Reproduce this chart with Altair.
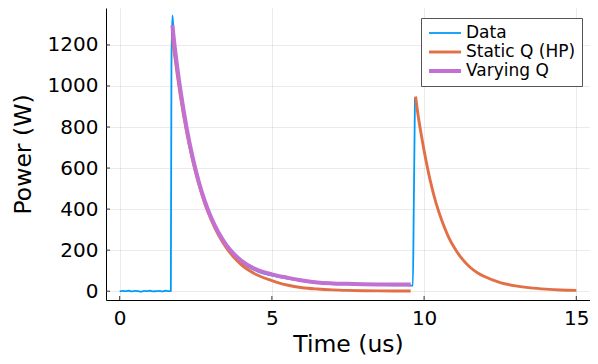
import altair as alt
import pandas as pd

# ---- values ----
series_names = ["Data", "Static Q (HP)", "Varying Q"]
series_colors = ["#009AFA", "#E36F47", "#C271D2"]
series_widths = [1.8, 4.0, 4.5]

x_ticks = [0, 5, 10, 15]
y_ticks = [0, 200, 400, 600, 800, 1000, 1200]

data_t = [0.0, 0.1, 0.2, 0.3, 0.4, 0.5, 0.6, 0.7, 0.8, 0.9, 1.0, 1.1, 1.2, 1.3, 1.4, 1.5, 1.6, 1.68,
          1.70, 1.73, 1.76, 1.8, 1.9, 2.0, 2.2, 2.4, 2.6, 2.8, 3.0, 3.25, 3.5, 3.75, 4.0, 4.5,
          5.0, 5.5, 6.0, 6.5, 7.0, 7.5, 8.0, 8.5, 9.0, 9.3, 9.63, 9.66, 9.70]
data_p = [-1, 1, 0, 2, -1, 1, 0, -2, 1, 0, 2, -1, 0, 1, -1, 2, 0, 1,
          1100, 1344, 1290, 1185, 1060, 958, 785, 642, 525, 430, 354, 278, 218, 172, 140, 98,
          76, 61, 49, 40, 35, 33, 31, 30, 29, 29, 27, 400, 945]

static1_t = [1.73, 1.8, 1.9, 2.0, 2.2, 2.4, 2.6, 2.8, 3.0, 3.25, 3.5, 3.75, 4.0, 4.5,
             5.0, 5.5, 6.0, 6.5, 7.0, 7.5, 8.0, 8.5, 9.0, 9.56]
static1_p = [1240, 1155, 1045, 945, 775, 635, 520, 425, 350, 272, 212, 165, 128, 80,
             52, 30, 17, 10.5, 6.4, 3.9, 2.3, 1.4, 0.9, 0.5]

static2_t = [9.72, 9.8, 9.9, 10.0, 10.2, 10.4, 10.6, 10.8, 11.0, 11.25, 11.5, 11.75,
             12.0, 12.5, 13.0, 13.5, 14.0, 14.5, 15.0]
static2_p = [949, 860, 768, 685, 540, 425, 337, 265, 210, 157, 118, 90,
             70, 42, 26, 16, 10, 6, 4]

vary_t = [1.73, 1.8, 1.9, 2.0, 2.2, 2.4, 2.6, 2.8, 3.0, 3.25, 3.5, 3.75, 4.0, 4.5,
          5.0, 5.5, 6.0, 6.5, 7.0, 7.5, 8.0, 8.5, 9.0, 9.56]
vary_p = [1296, 1200, 1080, 975, 795, 650, 532, 437, 360, 285, 226, 182, 148, 105,
          82, 66, 52, 42, 38, 36, 34, 33, 32.5, 32]

# ---- build table ----
rows = []
for t, p in zip(data_t, data_p):
    rows.append({"t": t, "p": p, "series": "Data", "seg": "d"})
for t, p in zip(static1_t, static1_p):
    rows.append({"t": t, "p": p, "series": "Static Q (HP)", "seg": "s1"})
for t, p in zip(static2_t, static2_p):
    rows.append({"t": t, "p": p, "series": "Static Q (HP)", "seg": "s2"})
for t, p in zip(vary_t, vary_p):
    rows.append({"t": t, "p": p, "series": "Varying Q", "seg": "v"})
df = pd.DataFrame(rows)

FONT = "DejaVu Sans"
W, H = 484, 292

x_enc = alt.X(
    "t:Q",
    scale=alt.Scale(domain=[-0.45, 15.45], nice=False, zero=False),
    axis=alt.Axis(values=x_ticks, title="Time (us)", format="d",
                  titleX=W / 2, titleY=51, titleBaseline="alphabetic",
                  titleAnchor="middle"),
)
y_enc = alt.Y(
    "p:Q",
    scale=alt.Scale(domain=[-43, 1380], nice=False, zero=False),
    axis=alt.Axis(values=y_ticks, title="Power (W)", format="d",
                  titleX=-76, titleY=H / 2, titleAngle=270,
                  titleBaseline="alphabetic", titleAlign="center"),
)
legend_props = dict(
    orient="none", legendX=315, legendY=10,
    padding=6, strokeColor="#555555", fillColor="white",
    symbolType="stroke", symbolSize=1024, clipHeight=18, rowPadding=1,
    labelFont=FONT, labelFontSize=17, labelColor="black", labelOffset=3,
    labelLimit=300,
)
color_enc = alt.Color(
    "series:N",
    scale=alt.Scale(domain=series_names, range=series_colors),
    title=None,
    legend=alt.Legend(**legend_props),
)
width_enc = alt.StrokeWidth(
    "series:N",
    scale=alt.Scale(domain=series_names, range=series_widths),
    title=None,
    legend=alt.Legend(**legend_props),
)

base = alt.Chart(df)
layers = []
for name in series_names:
    layers.append(
        base.transform_filter(alt.datum.series == name)
        .mark_line(interpolate="monotone", clip=True)
        .encode(x=x_enc, y=y_enc, color=color_enc, strokeWidth=width_enc,
                detail="seg:N")
    )

# inward tick marks (Julia GR style)
ytick_df = pd.DataFrame({"v": y_ticks})
xtick_df = pd.DataFrame({"v": x_ticks})
ytick_layer = alt.Chart(ytick_df).mark_rule(color="#333333", strokeWidth=1).encode(
    y=alt.Y("v:Q"), x=alt.value(0), x2=alt.value(4))
xtick_layer = alt.Chart(xtick_df).mark_rule(color="#333333", strokeWidth=1).encode(
    x=alt.X("v:Q"), y=alt.value(H), y2=alt.value(H - 4))

chart = (
    alt.layer(*layers, ytick_layer, xtick_layer)
    .properties(
        width=W, height=H,
        autosize=alt.AutoSizeParams(type="none"),
        padding={"left": 98, "top": 0, "right": 0, "bottom": 56},
    )
    .configure_view(strokeWidth=0)
    .configure_axis(
        labelFont=FONT, labelFontSize=20, labelColor="black",
        titleFont=FONT, titleFontSize=23.5, titleFontWeight="normal", titleColor="black",
        ticks=False, tickSize=0, labelPadding=8,
        domainColor="black", domainWidth=1,
        grid=True, gridColor="black", gridOpacity=0.08, gridWidth=1,
    )
    .configure_legend(cornerRadius=0, strokeWidth=1)
)

chart.save("out.html", embed_options={"renderer": "svg", "actions": False})
